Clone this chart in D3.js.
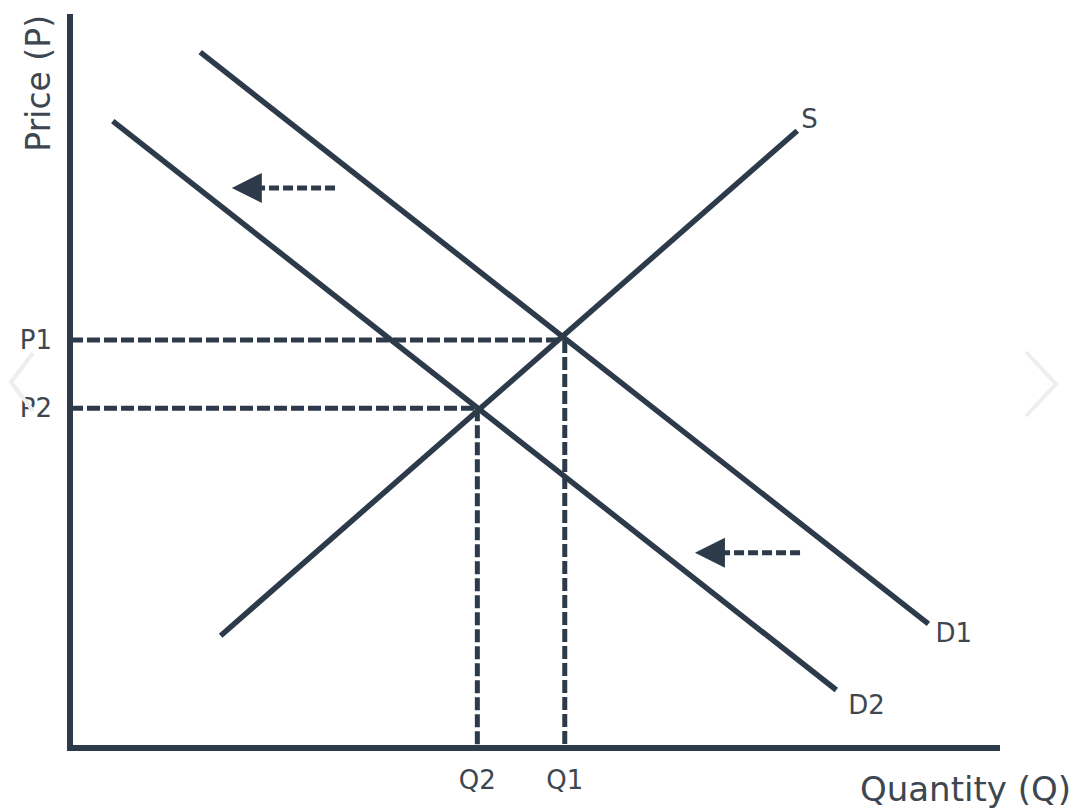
<!DOCTYPE html>
<html>
<head>
<meta charset="utf-8">
<title>Demand shift</title>
<script src="https://d3js.org/d3.v7.min.js"></script>
<style>
  body { margin: 0; background: #ffffff; }
  text { font-family: "DejaVu Sans", sans-serif; fill: #3d4651; }
</style>
</head>
<body>
<script>
'use strict';
// curves in chart units (quantity 0..100, price 0..100)
const demand1 = [{q: 14.0, p: 94.8}, {q: 92.3, p: 16.9}];
const demand2 = [{q: 4.6, p: 85.4}, {q: 82.4, p: 7.9}];
const supply = [{q: 16.2, p: 15.3}, {q: 78.2, p: 84.1}];
const curveLabels = ['D1', 'D2', 'S'];

// equilibrium points
const equilibria = [{name: '1', q: 53.2, p: 55.6}, {name: '2', q: 43.8, p: 46.3}];

// shift arrows (from -> to)
const shifts = [
  {q0: 28.5, q1: 17.4, p: 76.3},
  {q0: 78.5, q1: 67.2, p: 26.6}
];

const width = 1080, height = 812;
const ink = '#2c3a4a';

const x = d3.scaleLinear().domain([0, 100]).range([70, 1000]);
const y = d3.scaleLinear().domain([0, 100]).range([748, 14]);

const svg = d3.select('body').append('svg')
  .attr('width', width)
  .attr('height', height);

svg.append('rect').attr('width', width).attr('height', height).attr('fill', '#ffffff');

const line = d3.line()
  .x(function(d) { return x(d.q); })
  .y(function(d) { return y(d.p); });

// dashed guides
equilibria.forEach(function(e) {
  svg.append('path')
    .attr('d', line([{q: 0, p: e.p}, {q: e.q, p: e.p}]))
    .attr('stroke', ink).attr('stroke-width', 5)
    .attr('stroke-dasharray', '13,4').attr('fill', 'none');
  svg.append('path')
    .attr('d', line([{q: e.q, p: e.p}, {q: e.q, p: 0}]))
    .attr('stroke', ink).attr('stroke-width', 5)
    .attr('stroke-dasharray', '13,4').attr('fill', 'none');
});

// curves
[demand1, demand2, supply].forEach(function(c) {
  svg.append('path')
    .attr('d', line(c))
    .attr('stroke', ink).attr('stroke-width', 5.5)
    .attr('fill', 'none');
});

// axes
svg.append('path')
  .attr('d', 'M' + x(0) + ',' + y(100) + 'V' + y(0) + 'H' + x(100))
  .attr('stroke', ink).attr('stroke-width', 6).attr('fill', 'none');

// arrows
shifts.forEach(function(s) {
  const tip = x(s.q1), yy = y(s.p);
  svg.append('line')
    .attr('x1', x(s.q0)).attr('x2', tip + 28)
    .attr('y1', yy).attr('y2', yy)
    .attr('stroke', ink).attr('stroke-width', 5)
    .attr('stroke-dasharray', '10,4');
  svg.append('path')
    .attr('d', 'M' + tip + ',' + yy + 'L' + (tip + 30) + ',' + (yy - 15) + 'L' + (tip + 30) + ',' + (yy + 15) + 'Z')
    .attr('fill', ink);
});

// curve labels
svg.append('text').attr('x', x(demand1[1].q) + 7).attr('y', y(demand1[1].p) + 18)
  .attr('font-size', 26).text(curveLabels[0]);
svg.append('text').attr('x', x(demand2[1].q) + 12).attr('y', y(demand2[1].p) + 24)
  .attr('font-size', 26).text(curveLabels[1]);
svg.append('text').attr('x', x(supply[1].q) + 4).attr('y', y(supply[1].p) - 3)
  .attr('font-size', 26).text(curveLabels[2]);

// tick labels
equilibria.forEach(function(e) {
  svg.append('text').attr('x', 52).attr('y', y(e.p) + 9)
    .attr('text-anchor', 'end').attr('font-size', 26).text('P' + e.name);
  svg.append('text').attr('x', x(e.q)).attr('y', 789)
    .attr('text-anchor', 'middle').attr('font-size', 26).text('Q' + e.name);
});

// axis titles
svg.append('text').attr('x', 1071).attr('y', 801)
  .attr('text-anchor', 'end').attr('font-size', 34).text('Quantity (Q)');
svg.append('text')
  .attr('transform', 'translate(50,15) rotate(-90)')
  .attr('text-anchor', 'end').attr('font-size', 33).text('Price (P)');

// faint carousel chevrons
svg.append('path').attr('d', 'M33,353L11,382L33,411')
  .attr('stroke', '#eeeeee').attr('stroke-width', 4).attr('fill', 'none');
svg.append('path').attr('d', 'M1026,352L1056,384L1026,416')
  .attr('stroke', '#eeeeee').attr('stroke-width', 4).attr('fill', 'none');
</script>
</body>
</html>
